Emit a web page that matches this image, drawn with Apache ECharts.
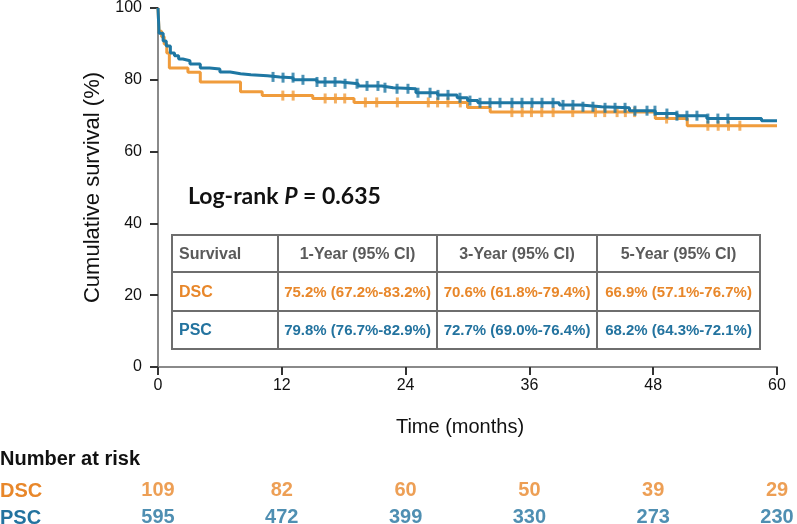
<!DOCTYPE html>
<html>
<head>
<meta charset="utf-8">
<script src="https://cdn.jsdelivr.net/npm/echarts@6/dist/echarts.min.js"></script>
<style>
html,body{margin:0;padding:0;background:#fff;}
#chart{width:797px;height:524px;}
</style>
</head>
<body>
<div id="chart"></div>
<script>
// ---- Data ----
var timeTicks = [0, 12, 24, 36, 48, 60];
var groups = ['DSC', 'PSC'];

// Kaplan-Meier steps [month, survival %]
var dscSteps = [[0,100],[0.1,93.5],[0.35,92],[0.6,90],[0.85,87.5],[1.1,83.3],[2.9,82.1],[4.1,79.4],[8.0,76.7],[10.1,75.6],[15.0,74.8],[19.0,73.7],[30.0,72.3],[32.2,71.0],[48.2,69.2],[51.3,67.2],[60,67.2]];
var pscSteps = [[0,100],[0.1,93],[0.5,90.8],[0.8,89.4],[1.2,87.5],[1.6,86.7],[2.0,85.8],[2.4,85.3],[3.1,84.4],[4.1,83.3],[5.0,83.0],[6.0,82.2],[7.0,81.7],[8.0,81.4],[9.0,81.1],[10.6,80.8],[11.8,80.6],[13.1,80.0],[15.4,79.4],[17.7,78.9],[19.4,78.3],[21.7,77.8],[22.8,77.5],[25.0,76.4],[27.1,75.8],[29.0,75.0],[30.0,74.2],[31.0,73.6],[38.9,73.0],[41.0,72.5],[43.0,72.2],[45.7,71.4],[48.2,70.6],[50.3,70.0],[53.2,69.2],[58.5,68.6],[60,68.6]];

// censored times (months)
var dscCensor = [12.1,13.1,16.2,17.2,18.1,20.1,21.2,23.2,26.2,27.1,28.1,29.3,34.3,35.3,36.2,37.2,38.3,40.2,42.4,43.3,44.5,45.3,46.2,49.3,53.3,54.3,55.3,56.4];
var pscCensor = [11.15,12.12,13.09,14.05,15.41,16.19,17.16,18.13,19.29,20.26,21.32,22.0,23.17,24.23,25.2,26.37,27.14,28.11,29.27,30.24,31.21,32.18,33.15,34.31,35.28,36.25,37.22,38.29,39.26,40.22,41.19,42.16,43.33,44.3,45.27,46.23,47.4,48.17,49.33,50.3,51.27,52.24,53.3,54.27,55.24];

// Number at risk
var dscRisk = [109, 82, 60, 50, 39, 29];
var pscRisk = [595, 472, 399, 330, 273, 230];

// Table
var tableHeader = ['Survival', '1-Year (95% CI)', '3-Year (95% CI)', '5-Year (95% CI)'];
var dscRow = ['DSC', '75.2% (67.2%-83.2%)', '70.6% (61.8%-79.4%)', '66.9% (57.1%-76.7%)'];
var pscRow = ['PSC', '79.8% (76.7%-82.9%)', '72.7% (69.0%-76.4%)', '68.2% (64.3%-72.1%)'];

// ---- Styles ----
var orangeLine = '#F09C3C', blueLine = '#1E77A3';
var orangeText = '#E8872A', blueText = '#23739F';
var FONT = '"Liberation Sans", Arial, sans-serif';

function survAt(steps, t) {
  var v = steps[0][1];
  for (var i = 0; i < steps.length; i++) { if (steps[i][0] <= t) v = steps[i][1]; }
  return v;
}
var dscCensorPts = dscCensor.map(function(t){ return [t, survAt(dscSteps, t)]; });
var pscCensorPts = pscCensor.map(function(t){ return [t, survAt(pscSteps, t)]; });

var riskData = [];
timeTicks.forEach(function(t, i){
  riskData.push({value:[t, 0, dscRisk[i]], label:{color: orangeText}});
  riskData.push({value:[t, 1, pscRisk[i]], label:{color: blueText}});
});

// table graphic
var colX = [172, 278, 437, 597, 760];
var rowY = [235, 272, 311, 349];
var tableEls = [];
tableEls.push({type:'rect', shape:{x:colX[0], y:rowY[0], width:colX[4]-colX[0], height:rowY[3]-rowY[0]}, style:{fill:'#fff', stroke:'#6e6e6e', lineWidth:2}, z:10});
for (var c = 1; c < 4; c++) tableEls.push({type:'line', shape:{x1:colX[c], y1:rowY[0], x2:colX[c], y2:rowY[3]}, style:{stroke:'#6e6e6e', lineWidth:2}, z:11});
for (var r = 1; r < 3; r++) tableEls.push({type:'line', shape:{x1:colX[0], y1:rowY[r], x2:colX[4], y2:rowY[r]}, style:{stroke:'#6e6e6e', lineWidth:2}, z:11});
var rows = [[tableHeader, '#5a5a5a', 16], [dscRow, orangeText, 15], [pscRow, blueText, 15]];
rows.forEach(function(rw, ri){
  var cy = (rowY[ri] + rowY[ri+1]) / 2 + 1;
  rw[0].forEach(function(txt, ci){
    var left = ci === 0;
    tableEls.push({type:'text', z:12, style:{
      text: txt, x: left ? colX[0] + 7 : (colX[ci] + colX[ci+1]) / 2, y: cy,
      textAlign: left ? 'left' : 'center', textVerticalAlign: 'middle',
      font: 'bold ' + (left ? 16 : rw[2]) + 'px ' + FONT, fill: rw[1]
    }});
  });
});

var chart = echarts.init(document.getElementById('chart'), null, {renderer:'canvas'});
chart.setOption({
  animation: false,
  backgroundColor: '#fff',
  grid: [
    {left:158, right:20, top:7, height:360},
    {left:158, right:20, top:463, height:54}
  ],
  xAxis: [
    {type:'value', gridIndex:0, min:0, max:60, interval:12,
     axisLine:{show:true, onZero:false, lineStyle:{color:'#8a8a8a', width:2}},
     axisTick:{show:true, length:8, lineStyle:{color:'#333', width:2}},
     axisLabel:{color:'#111', fontSize:16, fontFamily:FONT, margin:11},
     splitLine:{show:false}},
    {type:'value', gridIndex:1, min:0, max:60, show:false}
  ],
  yAxis: [
    {type:'value', gridIndex:0, min:0, max:100, interval:20,
     name:'Cumulative survival (%)', nameLocation:'middle', nameGap:53,
     nameTextStyle:{color:'#111', fontSize:22, fontFamily:FONT},
     axisLine:{show:true, lineStyle:{color:'#8a8a8a', width:2}},
     axisTick:{show:true, length:8, lineStyle:{color:'#333', width:2}},
     axisLabel:{color:'#111', fontSize:16, fontFamily:FONT, margin:16},
     splitLine:{show:false}},
    {type:'value', gridIndex:1, min:-1, max:1, inverse:true, show:false}
  ],
  series: [
    {type:'line', name:'PSC', xAxisIndex:0, yAxisIndex:0, step:'end', data:pscSteps, showSymbol:false, symbol:'none',
     lineStyle:{color:blueLine, width:3}, z:3},
    {type:'line', name:'DSC', xAxisIndex:0, yAxisIndex:0, step:'end', data:dscSteps, showSymbol:false, symbol:'none',
     lineStyle:{color:orangeLine, width:3}, z:2},
    {type:'scatter', xAxisIndex:0, yAxisIndex:0, data:dscCensorPts, symbol:'rect', symbolSize:[3,10],
     itemStyle:{color:orangeLine}, z:2},
    {type:'scatter', xAxisIndex:0, yAxisIndex:0, data:pscCensorPts, symbol:'rect', symbolSize:[3,10],
     itemStyle:{color:blueLine}, z:3},
    {type:'scatter', xAxisIndex:1, yAxisIndex:1, data:riskData, symbolSize:0,
     label:{show:true, position:'inside', fontSize:20, fontWeight:'bold', fontFamily:FONT,
       formatter:function(p){ return p.value[2]; }}}
  ],
  graphic: [
    {type:'text', left:0, top:449, style:{text:'Number at risk', font:'bold 20px ' + FONT, fill:'#111'}},
    {type:'text', style:{text:groups[0], x:0, y:491, textVerticalAlign:'middle', font:'bold 20px ' + FONT, fill:orangeText}},
    {type:'text', style:{text:groups[1], x:0, y:518, textVerticalAlign:'middle', font:'bold 20px ' + FONT, fill:blueText}},
    {type:'text', style:{text:'Time (months)', x:460, y:427, textAlign:'center', textVerticalAlign:'middle', font:'20px ' + FONT, fill:'#111'}},
    {type:'text', style:{x:188, y:197, textVerticalAlign:'middle',
      rich:{a:{font:'bold 23px Lato, "Open Sans", sans-serif', fill:'#111'}, i:{font:'italic bold 23px Lato, "Open Sans", sans-serif', fill:'#111'}},
      text:'{a|Log-rank }{i|P}{a| = 0.635}'}},
    {type:'group', children: tableEls}
  ]
});
</script>
</body>
</html>
